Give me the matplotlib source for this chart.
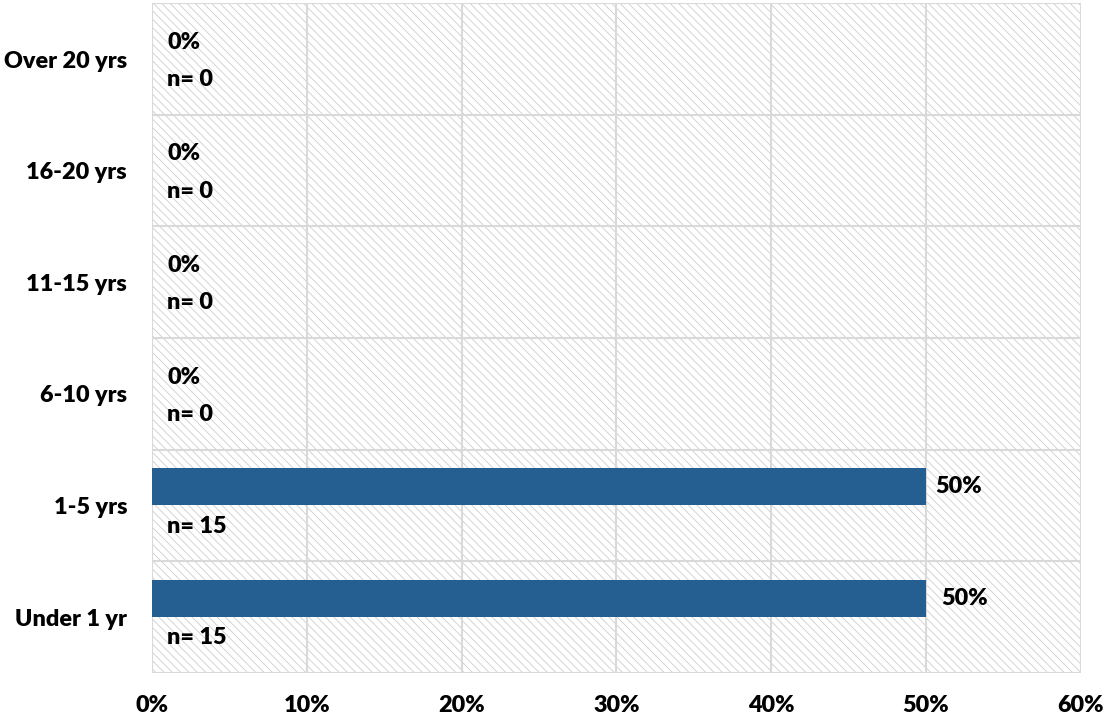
import matplotlib
matplotlib.use("Agg")
import matplotlib.pyplot as plt
from matplotlib.patches import Rectangle
import numpy as np

categories = ["Under 1 yr", "1-5 yrs", "6-10 yrs", "11-15 yrs", "16-20 yrs", "Over 20 yrs"]
percent = [50, 50, 0, 0, 0, 0]
counts = [15, 15, 0, 0, 0, 0]
x_ticks = [0, 10, 20, 30, 40, 50, 60]
x_tick_labels = ["0%", "10%", "20%", "30%", "40%", "50%", "60%"]

plt.rcParams['font.family'] = ['Lato', 'DejaVu Sans']
plt.rcParams['hatch.linewidth'] = 0.6
plt.rcParams['hatch.color'] = '#CDCDCD'

W = 'heavy'
fig = plt.figure(figsize=(11.04, 7.21), dpi=100)
ax = fig.add_axes([0.1377, 0.0666, 0.979 - 0.1377, 0.9955 - 0.0666])

# hatched plot-area background
bg = Rectangle((0, 0), 1, 1, transform=ax.transAxes, facecolor='white',
               edgecolor='#CDCDCD', hatch='\\\\\\\\', linewidth=0, zorder=0)
ax.add_patch(bg)

y = np.arange(len(categories))
bar_off = 0.17
bar_h = 0.33
ax.barh(y + bar_off, percent, height=bar_h, color='#255E91', zorder=3)

fs = 16.8
val_offsets = [11, 7, 11, 11, 11, 11]
for i, (p, n) in enumerate(zip(percent, counts)):
    ax.annotate(f"{p}%", xy=(p, y[i] + bar_off - (0.02 if p == 0 else 0)),
                xytext=(val_offsets[i], 0),
                textcoords='offset points', va='center', ha='left',
                fontsize=fs, fontweight=W, zorder=4)
    ax.annotate(f"n= {n}", xy=(0, y[i] - 0.185), xytext=(11, 0),
                textcoords='offset points', va='center', ha='left',
                fontsize=fs, fontweight=W, zorder=4)

ax.set_xlim(0, 60)
ax.set_ylim(-0.5, len(categories) - 0.5)
ax.set_xticks(x_ticks)
ax.set_xticklabels(x_tick_labels, fontsize=fs, fontweight=W)
ax.set_yticks(y)
ax.set_yticklabels(categories, fontsize=fs, fontweight=W)
ax.set_yticks(np.arange(-0.5, len(categories)), minor=True)
ax.tick_params(axis='both', which='both', length=0)
ax.tick_params(axis='x', pad=16)
ax.tick_params(axis='y', pad=18)

ax.grid(axis='x', which='major', color='#D9D9D9', linewidth=1.5, zorder=1)
ax.grid(axis='y', which='minor', color='#D9D9D9', linewidth=1.5, zorder=1)
ax.grid(axis='y', which='major', visible=False)
ax.set_axisbelow(True)
for s in ax.spines.values():
    s.set_visible(False)

fig.savefig("out.png", dpi=100)
